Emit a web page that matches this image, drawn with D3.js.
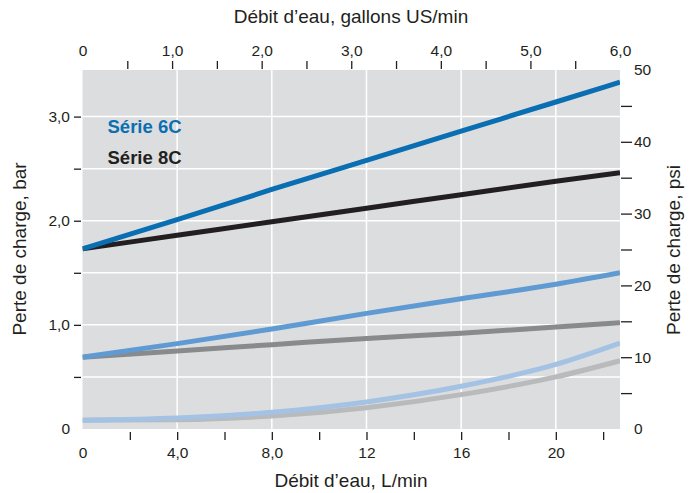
<!DOCTYPE html>
<html><head><meta charset="utf-8">
<script src="https://cdn.jsdelivr.net/npm/d3@7"></script>
<style>
body{margin:0;background:#fff;}
text{font-family:"Liberation Sans",Arial,Helvetica,sans-serif;fill:#231f20;}
</style></head>
<body><svg id="c" width="689" height="493"></svg>
<script>
// ---- data ----
const flowLmin = [0, 4, 8, 12, 16, 20, 22.712];
const serie6C_high = [1.73, 2.01, 2.30, 2.58, 2.86, 3.14, 3.33];
const serie8C_high = [1.73, 1.86, 1.99, 2.12, 2.25, 2.38, 2.46];
const serie6C_mid  = [0.69, 0.82, 0.96, 1.11, 1.25, 1.39, 1.50];
const serie8C_mid  = [0.69, 0.75, 0.81, 0.87, 0.92, 0.98, 1.02];
const serie6C_low  = [0.085, 0.105, 0.16, 0.26, 0.41, 0.62, 0.825];
const serie8C_low  = [0.085, 0.09, 0.125, 0.205, 0.33, 0.50, 0.655];
const bottomTickLabels = ["0","4,0","8,0","12","16","20"];
const bottomLabelValues = [0,4,8,12,16,20];
const topTickLabels = ["0","1,0","2,0","3,0","4,0","5,0","6,0"];
const topLabelValues = [0,1,2,3,4,5,6];
const leftTickLabels = ["0","1,0","2,0","3,0"];
const leftLabelValues = [0,1,2,3];
const rightTickLabels = ["0","10","20","30","40","50"];
const rightLabelValues = [0,10,20,30,40,50];
const legendLabels = ["Série 6C","Série 8C"];

const series = [
  {v: serie8C_low,  c:"#b9babc"},
  {v: serie6C_low,  c:"#a3c2e4"},
  {v: serie8C_mid,  c:"#898a8c"},
  {v: serie6C_mid,  c:"#5f9bd2"},
  {v: serie8C_high, c:"#231f20"},
  {v: serie6C_high, c:"#0a6fb2"}
];

const svg = d3.select("#c");
const L = 82.5, R = 620, T = 70, B = 429;
const PSI_PER_BAR = 14.5038;
const xL = d3.scaleLinear().domain([0, 22.712]).range([L, R]);
const xG = d3.scaleLinear().domain([0, 6]).range([L, R]);
const yBar = d3.scaleLinear().domain([0, 50/PSI_PER_BAR]).range([B, T]);
const yPsi = d3.scaleLinear().domain([0, 50]).range([B, T]);

// plot background
svg.append("rect").attr("x",L).attr("y",T).attr("width",R-L).attr("height",B-T).attr("fill","#dcdddf");

// gridlines
const g = svg.append("g");
[0.5,1,1.5,2,2.5,3].forEach(v=>{
  g.append("line").attr("x1",L).attr("x2",R).attr("y1",yBar(v)).attr("y2",yBar(v))
   .attr("stroke","#fff").attr("stroke-width",1.5);
});
[4,8,12,16,20].forEach(v=>{
  g.append("line").attr("x1",xL(v)).attr("x2",xL(v)).attr("y1",T).attr("y2",B)
   .attr("stroke","#fff").attr("stroke-width",1.5);
});

// lines
svg.append("clipPath").attr("id","clip").append("rect")
  .attr("x",L).attr("y",T).attr("width",R-L).attr("height",B-T);
const line = d3.line().x((d,i)=>xL(flowLmin[i])).y(d=>yBar(d)).curve(d3.curveMonotoneX);
series.forEach(s=>{
  svg.append("path").attr("d",line(s.v)).attr("fill","none")
    .attr("stroke",s.c).attr("stroke-width",5).attr("clip-path","url(#clip)");
});

// axes helpers
function styleTicks(sel){
  sel.select(".domain").remove();
  sel.selectAll(".tick line").attr("stroke","#231f20").attr("stroke-width",1.3);
  sel.selectAll("text").style("font-size","15.5px").attr("fill","#231f20");
}
// bottom ticks
const bt = svg.append("g").attr("transform",`translate(0,${B+3})`)
  .call(d3.axisBottom(xL).tickValues(d3.range(2,23,2)).tickSize(8).tickFormat(""));
styleTicks(bt);
const bl = svg.append("g").attr("transform",`translate(0,${B+15})`)
  .call(d3.axisBottom(xL).tickValues(bottomLabelValues).tickSize(0).tickFormat((d,i)=>bottomTickLabels[i]));
styleTicks(bl);
// top ticks
const tt = svg.append("g").attr("transform",`translate(0,${T-1})`)
  .call(d3.axisTop(xG).tickValues(d3.range(0.5,6,0.5)).tickSize(8).tickFormat(""));
styleTicks(tt);
const tl = svg.append("g").attr("transform",`translate(0,${T-11})`)
  .call(d3.axisTop(xG).tickValues(topLabelValues).tickSize(0).tickFormat((d,i)=>topTickLabels[i]));
styleTicks(tl);
// left
const lt = svg.append("g").attr("transform",`translate(${L-1.5},0)`)
  .call(d3.axisLeft(yBar).tickValues([0.5,1,1.5,2,2.5,3]).tickSize(7).tickFormat(""));
styleTicks(lt);
const ll = svg.append("g").attr("transform",`translate(${L-6.5},0)`)
  .call(d3.axisLeft(yBar).tickValues(leftLabelValues).tickSize(0).tickFormat((d,i)=>leftTickLabels[i]));
styleTicks(ll);
ll.selectAll("text").attr("dx","-3");
// right
const rt = svg.append("g").attr("transform",`translate(${R+1},0)`)
  .call(d3.axisRight(yPsi).tickValues(d3.range(5,50,5)).tickSize(11).tickFormat(""));
styleTicks(rt);
const rl = svg.append("g").attr("transform",`translate(${R+11},0)`)
  .call(d3.axisRight(yPsi).tickValues(rightLabelValues).tickSize(0).tickFormat((d,i)=>rightTickLabels[i]));
styleTicks(rl);

// titles
svg.append("text").attr("x",351).attr("y",23).attr("text-anchor","middle")
  .style("font-size","19px").text("Débit d’eau, gallons US/min");
svg.append("text").attr("x",351).attr("y",487).attr("text-anchor","middle")
  .style("font-size","19px").text("Débit d’eau, L/min");
svg.append("text").attr("transform","translate(26,249) rotate(-90)").attr("text-anchor","middle")
  .style("font-size","19px").text("Perte de charge, bar");
svg.append("text").attr("transform","translate(680,250) rotate(-90)").attr("text-anchor","middle")
  .style("font-size","19px").text("Perte de charge, psi");

// legend
svg.append("text").attr("x",107.5).attr("y",133).style("font-size","18.5px").style("font-weight","bold")
  .style("fill","#0a6fb2").text(legendLabels[0]);
svg.append("text").attr("x",107.5).attr("y",163.5).style("font-size","18.5px").style("font-weight","bold")
  .style("fill","#231f20").text(legendLabels[1]);
</script></body></html>
